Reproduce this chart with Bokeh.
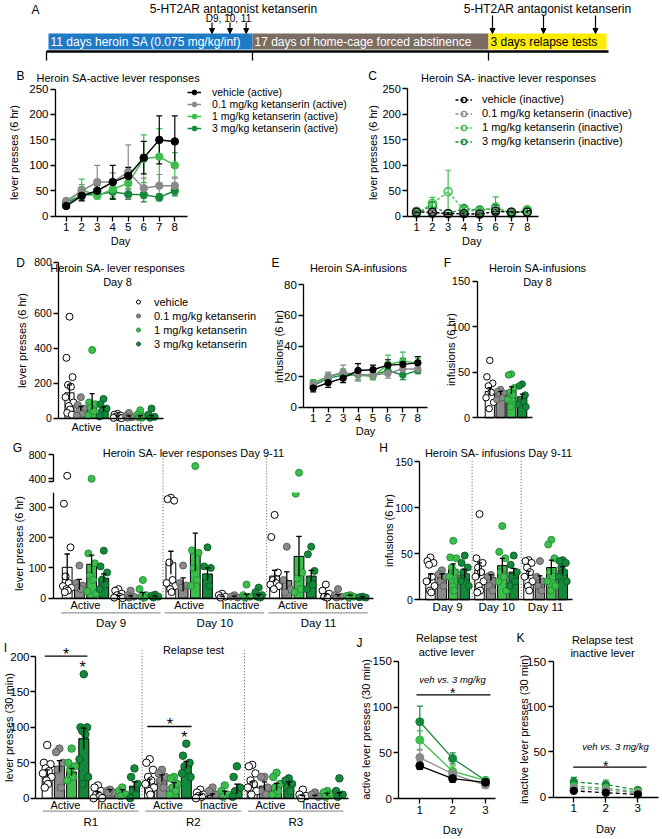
import math
from bokeh.plotting import figure
from bokeh.models import (Range1d, FixedTicker, Label, Arrow, NormalHead, Whisker,
                          TeeHead, ColumnDataSource, Legend, LegendItem)
from bokeh.layouts import column, row
from bokeh.embed import file_html
from bokeh.resources import INLINE
from bokeh.core.properties import value

FONT = "Liberation Sans"

# ============================ DATA ============================
GROUPS = ["vehicle", "0.1 mg/kg ketanserin", "1 mg/kg ketanserin", "3 mg/kg ketanserin"]
SA_DAYS = [1, 2, 3, 4, 5, 6, 7, 8]
RELAPSE_DAYS = [1, 2, 3]
LEVERS = ["Active", "Inactive"]
SA_TEST_DAYS = ["Day 9", "Day 10", "Day 11"]
RELAPSE_TESTS = ["R1", "R2", "R3"]

A_STAGES = ["11 days heroin SA  (0.075 mg/kg/inf)",
            "17 days of home-cage forced abstinence",
            "3 days relapse tests"]
A_STAGE_COLORS = ["#1f7ac6", "#7b6d63", "#ffec00"]
A_STAGE_TEXT = ["white", "white", "black"]
A_DRUG = "5-HT2AR antagonist ketanserin"
A_DOSE_DAYS = "D9, 10, 11"

# B: active lever presses (6 hr) per SA day  [group][day]
B_MEAN = [[20, 40, 50, 67, 79, 115, 150, 147],
          [30, 50, 67, 67, 87, 55, 60, 60],
          [25, 52, 40, 53, 65, 113, 117, 100],
          [25, 42, 42, 48, 43, 42, 37, 50]]
B_SEM = [[3, 10, 10, 33, 17, 32, 47, 50],
         [5, 12, 33, 18, 53, 20, 22, 17],
         [4, 21, 5, 15, 10, 47, 55, 25],
         [4, 8, 5, 15, 10, 14, 7, 10]]
# C: inactive lever presses (6 hr)
C_MEAN = [[8, 8, 5, 5, 4, 10, 8, 8],
          [10, 5, 5, 5, 5, 8, 8, 8],
          [5, 25, 48, 12, 10, 18, 5, 12],
          [6, 20, 5, 15, 12, 15, 5, 12]]
C_SEM = [[2, 3, 2, 3, 2, 4, 2, 3],
         [2, 2, 2, 2, 2, 3, 2, 2],
         [2, 12, 42, 5, 5, 20, 2, 5],
         [2, 8, 2, 5, 4, 6, 2, 4]]
# E: infusions (6 hr)
E_MEAN = [[12.5, 16, 19, 24, 24.5, 27.5, 28, 29],
          [15, 20, 23, 21, 21, 22, 25, 25],
          [16, 20, 22, 21, 20, 28, 30, 29],
          [14, 19, 21, 21, 21, 24, 21, 24]]
E_SEM = [[2.5, 3, 3, 4.5, 3, 3.5, 4, 4],
         [2.5, 3, 4.5, 4, 3, 3, 4, 3],
         [2, 2.5, 3, 3, 2, 6, 6, 3],
         [2, 2.5, 3, 3, 2, 3, 3, 2]]
# D: day 8 lever presses [lever][group]
D_MEAN = [[145, 55, 95, 50], [10, 10, 10, 10]]
D_SEM = [[45, 12, 45, 15], [3, 3, 4, 5]]
D_PTS = [[[580, 345, 235, 190, 180, 120, 90, 70, 50, 30, 20], [120, 75, 55, 40, 25, 15],
          [390, 90, 80, 60, 40, 15], [110, 80, 55, 40, 20, 10]],
         [[25, 20, 15, 10, 5, 2, 0], [30, 12, 5, 2], [45, 20, 10, 5, 2], [55, 20, 8, 2]]]
# F: day 8 infusions [group]
F_MEAN = [29, 27, 30, 23]
F_SEM = [4, 2, 4, 3]
F_PTS = [[63, 45, 38, 35, 28, 22, 17, 10], [31, 29, 27, 25, 22, 20],
         [48, 47, 33, 28, 25, 20, 15, 12], [37, 35, 25, 20, 18, 15, 12]]
# G: day 9-11 lever presses [day][lever][group]
G_MEAN = [[[102, 45, 112, 66], [6, 5, 12, 5]],
          [[117, 45, 153, 80], [5, 5, 8, 8]],
          [[73, 58, 138, 73], [10, 8, 8, 4]]]
G_SEM = [[[44, 17, 30, 14], [3, 3, 7, 2]],
         [[38, 22, 62, 20], [2, 2, 5, 4]],
         [[19, 29, 66, 19], [5, 4, 2, 1]]]
G_PTS = [[[[450, 312, 168, 72, 50, 40, 35, 30, 25, 20], [108, 50, 42, 35, 30],
           [400, 148, 115, 75, 60, 22, 15], [157, 105, 85, 62, 45, 30]],
          [[30, 25, 15, 10, 5, 2, 0], [25, 10, 5, 2], [60, 30, 10, 5, 2], [12, 8, 5, 2]]],
         [[[332, 327, 322, 118, 60, 50, 40, 30, 20], [108, 50, 42, 35],
           [610, 158, 150, 100, 60, 40], [168, 105, 100, 70, 40]],
          [[15, 10, 5, 2], [10, 5, 2], [45, 10, 5, 2], [35, 20, 10, 5, 2]]],
         [[[275, 202, 85, 60, 50, 45, 40, 30], [170, 60, 30, 20],
           [500, 345, 85, 65, 30, 20], [170, 145, 90, 60, 45, 30]],
          [[45, 25, 15, 5, 2], [30, 10, 5, 2], [10, 8, 5, 2], [5, 3, 2]]]]
# H: day 9-11 infusions [day][group]
H_MEAN = [[23, 25, 33, 28], [32, 24, 37, 30], [27, 22, 35, 32]]
H_SEM = [[5, 3, 6, 5], [8, 3, 8, 4], [4, 4, 8, 4]]
H_PTS = [[[46, 42, 40, 38, 25, 20, 15, 10, 8], [32, 28, 25, 20, 15],
          [64, 46, 45, 35, 30, 25, 20, 15, 10], [48, 40, 35, 30, 25, 20, 15]],
         [[93, 45, 40, 35, 30, 25, 20, 15, 10, 8], [27, 25, 20, 15, 10],
          [80, 52, 45, 30, 25, 20, 10], [48, 38, 30, 25, 20, 15]],
         [[43, 42, 40, 35, 30, 25, 20, 15, 10], [42, 25, 20, 15, 10],
          [65, 60, 45, 30, 25, 20, 15, 10], [43, 42, 40, 35, 30, 25, 20]]]
# I: relapse tests lever presses (30 min) [test][lever][group]
I_MEAN = [[[35, 45, 37, 84], [7, 10, 10, 17]],
          [[22, 28, 18, 47], [4, 4, 7, 13]],
          [[19, 17, 16, 20], [3, 3, 5, 5]]]
I_SEM = [[[5, 8, 5, 15], [2, 2, 2, 6]],
         [[5, 5, 4, 5], [1, 2, 3, 7]],
         [[4, 6, 5, 3], [1, 1, 2, 3]]]
I_PTS = [[[[75, 50, 48, 42, 38, 35, 30, 25, 20, 15], [70, 65, 50, 40, 15],
           [70, 50, 45, 40, 30, 25], [175, 100, 100, 95, 90, 55, 30, 20]],
          [[18, 15, 10, 5, 3, 0, 0], [12, 10, 8, 8], [15, 10, 5, 3], [42, 30, 20, 10, 5, 0]]],
         [[[55, 50, 40, 30, 25, 20, 15, 10, 5], [40, 35, 30, 25, 15],
           [30, 28, 20, 15, 10, 5], [77, 60, 50, 45, 40, 35, 30]],
          [[12, 8, 5, 3, 2, 0], [15, 10, 5], [18, 10, 5, 2], [45, 30, 15, 10, 5, 2]]],
         [[[47, 45, 35, 25, 20, 15, 10, 5], [30, 30, 15, 10, 5],
           [36, 30, 20, 15, 10, 5], [28, 25, 20, 15, 10]],
          [[12, 5, 3, 0], [8, 5, 2], [10, 8, 5, 2], [28, 10, 5, 2]]]]
# J / K: relapse-test time courses [group][day]
J_MEAN = [[36, 22, 18], [45, 27, 15], [64, 30, 20], [84, 44, 20]]
J_SEM = [[4, 4, 3], [8, 4, 3], [10, 6, 3], [17, 6, 3]]
K_MEAN = [[7, 5, 3], [10, 8, 5], [12, 10, 6], [17, 14, 8]]
K_SEM = [[1, 1, 1], [2, 2, 1], [3, 3, 1], [5, 5, 2]]

# ============================ STYLE ============================
COLORS = ["#000000", "#8a8a8a", "#3dbd4c", "#15893b"]
BAR_FILL = ["#ffffff", "#8a8a8a", "#3dbd4c", "#15893b"]
PT_LINE = ["#000000", "#5e5e5e", "#23923a", "#0c5f28"]
JIT = [0.0, -0.27, 0.27, -0.13, 0.13, -0.35, 0.35, -0.06, 0.06, -0.2, 0.2, 0.0]
ROT = math.pi / 2


def style_axes(p, size="11px"):
    for ax in p.axis:
        ax.axis_line_width = 1.3
        ax.axis_line_color = "black"
        ax.major_tick_line_width = 1.3
        ax.major_tick_line_color = "black"
        ax.major_tick_out = 5
        ax.major_tick_in = 0
        ax.minor_tick_line_color = None
        ax.major_label_text_font = FONT
        ax.major_label_text_font_size = size
        ax.major_label_text_color = "black"
        ax.major_label_standoff = 2


class Pane:
    """Figure whose frame fills its box; data is mapped by two anchor points per axis."""
    def __init__(self, box, xmap, ymap, xaxis=True, yaxis=True):
        self.box = box
        bx0, by0, bx1, by1 = box
        (pxa, xa), (pxb, xb) = xmap
        (pya, ya), (pyb, yb) = ymap
        self.sx = (pxb - pxa) / (xb - xa)
        self.sy = (pya - pyb) / (yb - ya)
        self.pxa, self.xa, self.pya, self.ya = pxa, xa, pya, ya
        self.xr = (self.X(bx0), self.X(bx1))
        self.yr = (self.Y(by1), self.Y(by0))
        self.p = figure(width=bx1 - bx0, height=by1 - by0,
                        x_range=Range1d(*self.xr), y_range=Range1d(*self.yr),
                        output_backend="svg", toolbar_location=None,
                        x_axis_type="linear" if xaxis else None,
                        y_axis_type="linear" if yaxis else None,
                        min_border_left=0, min_border_right=0,
                        min_border_top=0, min_border_bottom=0)
        p = self.p
        p.outline_line_color = None
        p.background_fill_color = "white"
        p.border_fill_color = "white"
        if xaxis or yaxis:
            p.grid.visible = False

    def X(self, px):
        return self.xa + (px - self.pxa) / self.sx

    def Y(self, py):
        return self.ya + (self.pya - py) / self.sy

    def axes(self, yaxis_px, xend_px, ytop, size, ybottom=0):
        p = self.p
        style_axes(p, size)
        xl = self.X(yaxis_px)
        for ax in p.xaxis:
            ax.fixed_location = 0
            ax.bounds = (xl, self.X(xend_px))
        for ax in p.yaxis:
            ax.fixed_location = xl
            ax.bounds = (ybottom, ytop)

    def text(self, px, py, s, size=11, align="center", angle=0, style="normal", xdata=None):
        x = xdata if xdata is not None else self.X(px)
        self.p.add_layout(Label(x=x, y=self.Y(py), text=s, text_font=FONT,
                                text_font_size=f"{size}px", text_align=align,
                                text_baseline="middle", angle=angle,
                                text_font_style=style, text_color="black"))

    def hline(self, x0, x1, py, color="black", width=1.3):
        y = self.Y(py)
        self.p.segment(x0=[x0], y0=[y], x1=[x1], y1=[y], line_color=color, line_width=width)

    def vsep(self, x, py_top, py_bot):
        self.p.segment(x0=[x], y0=[self.Y(py_bot)], x1=[x], y1=[self.Y(py_top)],
                       line_color="#555555", line_width=1, line_dash="1 2")


def draw_series(pane, xs, ys, es, color, dash="solid", open_m=False, size=8, lw=1.5):
    src = ColumnDataSource(dict(x=xs, y=ys,
                                lo=[max(0, y - e) for y, e in zip(ys, es)],
                                up=[y + e for y, e in zip(ys, es)]))
    pane.p.add_layout(Whisker(source=src, base="x", lower="lo", upper="up", dimension="height",
                              line_color=color, line_width=1.2,
                              upper_head=TeeHead(size=6, line_color=color, line_width=1.2),
                              lower_head=TeeHead(size=6, line_color=color, line_width=1.2)))
    rl = pane.p.line("x", "y", source=src, line_color=color, line_width=lw, line_dash=dash)
    rs = pane.p.scatter("x", "y", source=src, marker="circle", size=size,
                        fill_color=None if open_m else color, line_color=color,
                        line_width=1.4 if open_m else 1)
    return [rl, rs]


def draw_bars(pane, xs, gs, means, sems, pts, bw, psize, cap, lo_cut=None, hi_cut=None, bars=True):
    p = pane.p
    if bars:
        src = ColumnDataSource(dict(x=xs, top=means, fill=[BAR_FILL[g] for g in gs]))
        p.vbar(x="x", top="top", bottom=0, width=bw, fill_color="fill",
               line_color="black", line_width=1, source=src)
    rends = []
    for g in range(4):
        px, py = [], []
        for x, gg, vals in zip(xs, gs, pts):
            if gg != g:
                continue
            for i, v in enumerate(vals):
                if lo_cut is not None and v < lo_cut:
                    continue
                if hi_cut is not None and v > hi_cut:
                    continue
                px.append(x + JIT[i % len(JIT)])
                py.append(v)
        rends.append(p.scatter(px, py, marker="circle", size=psize, fill_color=BAR_FILL[g],
                               line_color=PT_LINE[g], line_width=1))
    if bars:
        lo = [m - s for m, s in zip(means, sems)]
        up = [m + s for m, s in zip(means, sems)]
        p.segment(x0=xs, y0=lo, x1=xs, y1=up, line_color="black", line_width=1.3)
        p.segment(x0=[x - cap for x in xs], y0=up, x1=[x + cap for x in xs], y1=up,
                  line_color="black", line_width=1.3)
    return rends


def add_legend(pane, labels, rends, left_px, top_px, row_h, spacing, glyph_w, standoff, size):
    n = len(labels)
    height = n * row_h + (n - 1) * spacing
    bx0, by0, bx1, by1 = pane.box
    items = [LegendItem(label=l, renderers=r) for l, r in zip(labels, rends)]
    leg = Legend(items=items, location=(left_px - bx0, by1 - (top_px + height)),
                 orientation="vertical", padding=0, margin=0, spacing=spacing,
                 border_line_color=None, background_fill_alpha=0,
                 glyph_width=glyph_w, glyph_height=row_h, label_height=row_h,
                 label_standoff=standoff, label_text_font=FONT,
                 label_text_font_size=size, label_text_color="black")
    pane.p.add_layout(leg)


def cat_axis(ax, ticks, labels, size="11px", standoff=2):
    ticks = [round(t, 3) for t in ticks]
    ax.ticker = FixedTicker(ticks=ticks)
    ax.major_label_overrides = {t: l for t, l in zip(ticks, labels)}
    ax.major_tick_line_color = None
    ax.major_tick_out = 0
    ax.major_label_text_font_size = size
    ax.major_label_standoff = standoff


# ============================ PANEL A ============================
A = Pane((0, 0, 662, 62), ((0, 0), (662, 662)), ((0, 0), (62, 62)), xaxis=False, yaxis=False)
pA = A.p
A_EDGES = [48, 252, 488, 606]
pA.quad(left=A_EDGES[:-1], right=A_EDGES[1:], top=[33] * 3, bottom=[49] * 3,
        fill_color=A_STAGE_COLORS, line_color=None)
pA.text(x=[e + 2 for e in A_EDGES[:-1]], y=[41.5] * 3, text=A_STAGES, text_color=A_STAGE_TEXT,
        text_font=value(FONT), text_font_size=value("12px"), text_align="left",
        text_baseline="middle")
pA.segment(x0=[46], y0=[51], x1=[608], y1=[51], line_color="black", line_width=2.5)
pA.segment(x0=[46, 252, 488], y0=[51] * 3, x1=[46, 252, 488], y1=[60] * 3,
           line_color="black", line_width=1.3)
for xa in [211.5, 229.5, 245.7]:
    pA.add_layout(Arrow(x_start=xa, y_start=22, x_end=xa, y_end=33, line_width=1.2,
                        end=NormalHead(size=5, fill_color="black", line_color="black")))
for xa in [492, 543, 595]:
    pA.add_layout(Arrow(x_start=xa, y_start=15, x_end=xa, y_end=33, line_width=1.2,
                        end=NormalHead(size=5, fill_color="black", line_color="black")))
A.text(35, 9, "A", 12)
A.text(233, 8, A_DRUG, 12)
A.text(547, 8, A_DRUG, 12)
A.text(228, 17.5, A_DOSE_DAYS, 10)

# ============================ PANEL B ============================
B = Pane((0, 62, 358, 247), ((65.7, 1), (174.3, 8)), ((215.7, 0), (88.5, 250)))
B.axes(55, 187, 250, "11.5px")
B.p.xaxis.ticker = FixedTicker(ticks=SA_DAYS)
B.p.yaxis.ticker = FixedTicker(ticks=[0, 50, 100, 150, 200, 250])
rB = {}
for g in [3, 2, 1, 0]:
    rB[g] = draw_series(B, SA_DAYS, B_MEAN[g], B_SEM[g], COLORS[g], "solid", False, 7.5)
add_legend(B, [f"{n} (active)" for n in GROUPS], [rB[g] for g in range(4)],
           187, 85.5, 12, 0, 14, 11, "10.5px")
B.text(20, 75, "B", 12)
B.text(36, 77, "Heroin SA-active lever responses", 11, align="left")
B.text(13.5, 152, "lever presses (6 hr)", 11, angle=ROT)
B.text(0, 240, "Day", 11, xdata=4.5)

# ============================ PANEL C ============================
C = Pane((358, 62, 662, 247), ((416, 1), (526.7, 8)), ((215.7, 0), (88, 250)))
C.axes(407.3, 538, 250, "11px")
C.p.xaxis.ticker = FixedTicker(ticks=SA_DAYS)
C.p.yaxis.ticker = FixedTicker(ticks=[0, 50, 100, 150, 200, 250])
rC = {}
for g in [3, 2, 1, 0]:
    rC[g] = draw_series(C, SA_DAYS, C_MEAN[g], C_SEM[g], COLORS[g], "3 2", True, 8, 1.3)
add_legend(C, [f"{n} (inactive)" for n in GROUPS], [rC[g] for g in range(4)],
           455, 92.5, 13, 1, 17, 10, "11px")
C.text(372, 75, "C", 12)
C.text(508, 77, "Heroin SA- inactive lever responses", 11)
C.text(372, 152, "lever presses (6 hr)", 11, angle=ROT)
C.text(0, 240, "Day", 11, xdata=4.5)

# ============================ PANEL D ============================
D_LEV = 4.24
D = Pane((0, 247, 262, 440), ((69, 0), (103, 3)), ((417.7, 0), (347.7, 400)))
D_TOP = round(D.Y(261.7))
D.axes(58.3, 163.3, D_TOP, "10.5px")
D.p.yaxis.ticker = FixedTicker(ticks=[0, 200, 400, 600, D_TOP])
D.p.yaxis.major_label_overrides = {D_TOP: "800"}
cat_axis(D.p.xaxis, [1.5, D_LEV + 1.5], LEVERS, "11px", 3)
xs, gs, ms, ss, ps = [], [], [], [], []
for l in range(2):
    for g in range(4):
        xs.append(l * D_LEV + g); gs.append(g)
        ms.append(D_MEAN[l][g]); ss.append(D_SEM[l][g]); ps.append(D_PTS[l][g])
rD = draw_bars(D, xs, gs, ms, ss, ps, 0.8, 7, 0.22)
add_legend(D, GROUPS, [[r] for r in rD], 133, 295, 13, 1, 10, 11, "11px")
D.text(20, 262, "D", 12)
D.text(117, 267, "Heroin SA- lever responses", 11)
D.text(117, 281, "Day 8", 11)
D.text(21.5, 340, "lever presses (6 hr)", 11, angle=ROT)

# ============================ PANEL E ============================
E = Pane((262, 247, 440, 440), ((312.7, 1), (417.3, 8)), ((406.7, 0), (284.3, 80)))
E.axes(303.3, 426.7, 80, "11.5px")
E.p.xaxis.ticker = FixedTicker(ticks=SA_DAYS)
E.p.yaxis.ticker = FixedTicker(ticks=[0, 20, 40, 60, 80])
for g in [3, 2, 1, 0]:
    draw_series(E, SA_DAYS, E_MEAN[g], E_SEM[g], COLORS[g], "solid", False, 6.5, 1.4)
E.text(275, 262, "E", 12)
E.text(358, 267, "Heroin SA-infusions", 11)
E.text(278.5, 346, "infusions (6 hr)", 11, angle=ROT)
E.text(0, 430, "Day", 11, xdata=4.5)

# ============================ PANEL F ============================
F = Pane((440, 247, 662, 440), ((489.3, 0), (521.7, 3)), ((417.3, 0), (280.7, 150)))
F.axes(476.7, 531.7, 150, "11px")
F.p.xaxis.ticker = FixedTicker(ticks=[])
F.p.yaxis.ticker = FixedTicker(ticks=[0, 50, 100, 150])
draw_bars(F, [0, 1, 2, 3], [0, 1, 2, 3], F_MEAN, F_SEM, F_PTS, 0.85, 6.5, 0.22)
F.text(447, 262, "F", 12)
F.text(537, 267, "Heroin SA-infusions", 11)
F.text(537, 281, "Day 8", 11)
F.text(450, 349, "infusions (6 hr)", 11, angle=ROT)

# ============================ PANEL G ============================
G_DAY, G_LEV = 8.5, 4.2
G_XMAP = ((66.7, 0), (66.7 + 12.2 * 20, 20))
Gt = Pane((0, 440, 378, 492), G_XMAP, ((478.3, 400), (454, 800)), xaxis=False)
Gb = Pane((0, 492, 378, 632), G_XMAP, ((597.7, 0), (491.7, 350)))
G_BRK = round(Gt.Y(480.7))
Gt.axes(52.7, 373.3, 800, "10.5px", ybottom=G_BRK)
Gb.axes(52.7, 373.3, 350, "10.5px")
Gt.p.yaxis.ticker = FixedTicker(ticks=[G_BRK, 400, 800])
Gt.p.yaxis.major_label_overrides = {G_BRK: ""}
Gb.p.yaxis.ticker = FixedTicker(ticks=[0, 100, 200, 300, 350])
Gb.p.yaxis.major_label_overrides = {350: ""}
xs, gs, ms, ss, ps = [], [], [], [], []
for d in range(3):
    for l in range(2):
        for g in range(4):
            xs.append(d * G_DAY + l * G_LEV + g); gs.append(g)
            ms.append(G_MEAN[d][l][g]); ss.append(G_SEM[d][l][g]); ps.append(G_PTS[d][l][g])
draw_bars(Gt, xs, gs, ms, ss, ps, 0.8, 7, 0.22, lo_cut=351, bars=False)
draw_bars(Gb, xs, gs, ms, ss, ps, 0.8, 7, 0.22, hi_cut=350)
tk, tl = [], []
for d in range(3):
    for l in range(2):
        tk.append(d * G_DAY + l * G_LEV + 1.5); tl.append(LEVERS[l])
cat_axis(Gb.p.xaxis, tk, tl, "11px", 1)
for d in range(2):
    sep = d * G_DAY + G_LEV + 3 + (G_DAY - G_LEV - 3) / 2
    Gt.vsep(sep, 450, 492)
    Gb.vsep(sep, 492, 597.7)
for d in range(3):
    Gb.hline(d * G_DAY - 0.5, d * G_DAY + G_LEV + 3.45, 612.3, "#999999", 1.3)
    Gb.text(0, 622.3, SA_TEST_DAYS[d], 11.5, xdata=d * G_DAY + (G_LEV + 3) / 2)
Gt.text(17, 447.3, "G", 12)
Gt.text(193, 452.3, "Heroin SA- lever responses Day 9-11", 11)
Gb.text(18, 543, "lever presses (6 hr)", 11, angle=ROT)

# ============================ PANEL H ============================
H_DAY = 4.3
H = Pane((378, 440, 662, 632), ((430, 0), (430 + 11.4 * 10, 10)), ((599.3, 0), (461, 150)))
H.axes(419.3, 572, 150, "10.5px")
H.p.yaxis.ticker = FixedTicker(ticks=[0, 50, 100, 150])
xs, gs, ms, ss, ps = [], [], [], [], []
for d in range(3):
    for g in range(4):
        xs.append(d * H_DAY + g); gs.append(g)
        ms.append(H_MEAN[d][g]); ss.append(H_SEM[d][g]); ps.append(H_PTS[d][g])
draw_bars(H, xs, gs, ms, ss, ps, 0.83, 7, 0.22)
cat_axis(H.p.xaxis, [d * H_DAY + 1.5 for d in range(3)], SA_TEST_DAYS, "11.5px", 1)
for d in range(2):
    H.vsep(d * H_DAY + 3 + (H_DAY - 3) / 2, 458, 599.3)
H.text(383, 447.3, "H", 12)
H.text(498, 452.3, "Heroin SA- infusions Day 9-11", 11)
H.text(388.3, 530, "infusions (6 hr)", 11, angle=ROT)

# ============================ PANEL I ============================
I_DAY, I_LEV = 8.4, 4.15
I = Pane((0, 632, 355, 838), ((46.7, 0), (46.7 + 12.2 * 20, 20)), ((797.7, 0), (656, 200)))
I.axes(35, 348.3, 200, "11.5px")
I.p.yaxis.ticker = FixedTicker(ticks=[0, 50, 100, 150, 200])
I.p.yaxis.major_label_standoff = 1
xs, gs, ms, ss, ps = [], [], [], [], []
for d in range(3):
    for l in range(2):
        for g in range(4):
            xs.append(d * I_DAY + l * I_LEV + g); gs.append(g)
            ms.append(I_MEAN[d][l][g]); ss.append(I_SEM[d][l][g]); ps.append(I_PTS[d][l][g])
draw_bars(I, xs, gs, ms, ss, ps, 0.82, 7.5, 0.22)
tk, tl = [], []
for d in range(3):
    for l in range(2):
        tk.append(d * I_DAY + l * I_LEV + 1.5); tl.append(LEVERS[l])
cat_axis(I.p.xaxis, tk, tl, "11px", 1)
for d in range(2):
    I.vsep(d * I_DAY + I_LEV + 3 + (I_DAY - I_LEV - 3) / 2, 650, 797.7)
for d in range(3):
    I.hline(d * I_DAY - 0.35, d * I_DAY + I_LEV + 3.35, 810.7, "#999999", 1.3)
    I.text(0, 821, RELAPSE_TESTS[d], 11.5, xdata=d * I_DAY + (I_LEV + 3) / 2)
# significance marks
I.hline(-0.2, 3.3, 655.7)
I.text(0, 654, "*", 16, xdata=1.55)
I.text(0, 667, "*", 16, xdata=2.9)
I.hline(I_DAY - 0.2, I_DAY + 3.43, 726)
I.text(0, 724, "*", 16, xdata=I_DAY + 1.65)
I.text(0, 736.5, "*", 16, xdata=I_DAY + 2.85)
I.text(5, 647.3, "I", 12)
I.text(193, 649.3, "Relapse test", 11)
I.text(8, 727, "lever presses (30 min)", 11, angle=ROT)

# ============================ PANEL J ============================
J = Pane((355, 632, 510, 838), ((419.3, 1), (485, 3)), ((798.3, 0), (660.7, 150)))
J.axes(398.3, 495, 150, "11.5px")
J.p.xaxis.ticker = FixedTicker(ticks=RELAPSE_DAYS)
J.p.yaxis.ticker = FixedTicker(ticks=[0, 50, 100, 150])
for g in [3, 2, 1, 0]:
    draw_series(J, RELAPSE_DAYS, J_MEAN[g], J_SEM[g], COLORS[g], "solid", False, 8, 1.3)
J.text(452, 679.3, "veh vs. 3 mg/kg", 9.5, style="italic")
J.text(0, 692.5, "*", 14, xdata=2)
J.hline(J.X(416), J.X(490), 694.3)
J.text(359, 642.3, "J", 12)
J.text(446, 637.3, "Relapse test", 11)
J.text(446, 651.7, "active lever", 11)
J.text(365, 729, "active lever presses (30 min)", 11, angle=ROT)
J.text(0, 829, "Day", 11, xdata=2)

# ============================ PANEL K ============================
K = Pane((510, 632, 662, 838), ((573.3, 1), (637.3, 3)), ((796.7, 0), (661, 150)))
K.axes(552.7, 658, 150, "11.5px")
K.p.xaxis.ticker = FixedTicker(ticks=RELAPSE_DAYS)
K.p.yaxis.ticker = FixedTicker(ticks=[0, 50, 100, 150])
for g in [3, 2, 1, 0]:
    draw_series(K, RELAPSE_DAYS, K_MEAN[g], K_SEM[g], COLORS[g], "4 3", False, 7.5, 1.3)
K.text(615, 746, "veh vs. 3 mg/kg", 9.5, style="italic")
K.text(0, 765, "*", 14, xdata=2)
K.hline(K.X(572.7), K.X(646), 766.7)
K.text(520, 637.3, "K", 12)
K.text(602, 639.3, "Relapse test", 11)
K.text(602, 652.3, "inactive lever", 11)
K.text(523, 729, "inactive lever presses (30 min)", 11, angle=ROT)
K.text(0, 828, "Day", 11, xdata=2)

# ============================ LAYOUT ============================
layout = column(
    A.p,
    row(B.p, C.p),
    row(D.p, E.p, F.p),
    row(column(Gt.p, Gb.p), H.p),
    row(I.p, J.p, K.p),
)

open("out.html", "w").write(file_html(layout, INLINE))
